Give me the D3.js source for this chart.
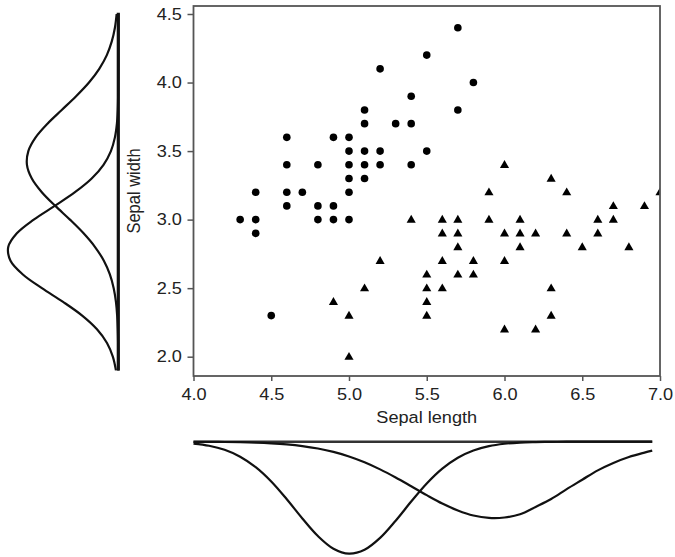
<!DOCTYPE html>
<html>
<head>
<meta charset="utf-8">
<script src="https://cdn.jsdelivr.net/npm/d3@7"></script>
<style>
  html, body { margin: 0; padding: 0; background: #fff; }
  svg { display: block; font-family: "Liberation Sans", Arial, Helvetica, sans-serif; }
</style>
</head>
<body>
<svg id="chart" width="675" height="557"></svg>
<script>
// Iris sepal measurements: setosa (circles) and versicolor (triangles)
const setosaLength = [5.5, 5.2, 5.4, 5.1, 5.1, 5.3, 5.4, 4.6, 4.9, 5.0, 5.0, 5.1, 5.2, 5.5, 4.6, 4.8, 5.0, 5.1, 5.2, 5.4, 5.0, 5.1, 4.4, 4.6, 4.7, 5.0, 5.7, 5.8, 5.7, 4.6, 4.8, 4.9, 4.3, 4.4, 4.8, 4.9, 5.0, 4.4, 4.5];
const setosaWidth  = [4.2, 4.1, 3.9, 3.8, 3.7, 3.7, 3.7, 3.6, 3.6, 3.6, 3.5, 3.5, 3.5, 3.5, 3.4, 3.4, 3.4, 3.4, 3.4, 3.4, 3.3, 3.3, 3.2, 3.2, 3.2, 3.2, 4.4, 4.0, 3.8, 3.1, 3.1, 3.1, 3.0, 3.0, 3.0, 3.0, 3.0, 2.9, 2.3];

const versicolorLength = [6.0, 6.3, 5.9, 6.4, 7.0, 6.7, 6.9, 5.4, 5.6, 5.7, 5.9, 6.1, 6.6, 6.7, 5.6, 5.7, 6.0, 6.1, 6.2, 6.4, 6.6, 5.7, 6.1, 6.5, 6.8, 5.2, 5.6, 5.8, 6.0, 5.5, 5.7, 5.8, 5.1, 5.5, 5.6, 6.3, 4.9, 5.5, 5.0, 5.5, 6.3, 6.0, 6.2, 5.0];
const versicolorWidth  = [3.4, 3.3, 3.2, 3.2, 3.2, 3.1, 3.1, 3.0, 3.0, 3.0, 3.0, 3.0, 3.0, 3.0, 2.9, 2.9, 2.9, 2.9, 2.9, 2.9, 2.9, 2.8, 2.8, 2.8, 2.8, 2.7, 2.7, 2.7, 2.7, 2.6, 2.6, 2.6, 2.5, 2.5, 2.5, 2.5, 2.4, 2.4, 2.3, 2.3, 2.3, 2.2, 2.2, 2.0];

// Axis ticks
const xTicks = [4.0, 4.5, 5.0, 5.5, 6.0, 6.5, 7.0];
const yTicks = [2.0, 2.5, 3.0, 3.5, 4.0, 4.5];

// Marginal density of sepal width (left panel)
const widthGrid = [1.9, 2.0, 2.1, 2.2, 2.3, 2.4, 2.5, 2.6, 2.7, 2.8, 2.9, 3.0, 3.1, 3.2, 3.3, 3.4, 3.5, 3.6, 3.7, 3.8, 3.9, 4.0, 4.1, 4.2, 4.3, 4.4, 4.5];
const setosaWidthDensity = [0.000, 0.001, 0.002, 0.006, 0.013, 0.027, 0.053, 0.097, 0.166, 0.267, 0.399, 0.556, 0.724, 0.879, 0.994, 1.050, 1.034, 0.950, 0.814, 0.650, 0.485, 0.337, 0.219, 0.132, 0.075, 0.039, 0.019];
const versicolorWidthDensity = [0.027, 0.063, 0.130, 0.245, 0.415, 0.635, 0.878, 1.097, 1.239, 1.265, 1.166, 0.972, 0.731, 0.498, 0.306, 0.170, 0.085, 0.039, 0.016, 0.006, 0.002, 0.001, 0.000, 0.000, 0.000, 0.000, 0.000];

// Marginal density of sepal length (bottom panel)
const lengthGrid = [4.0, 4.1, 4.2, 4.3, 4.4, 4.5, 4.6, 4.7, 4.8, 4.9, 5.0, 5.1, 5.2, 5.3, 5.4, 5.5, 5.6, 5.7, 5.8, 5.9, 6.0, 6.1, 6.2, 6.3, 6.4, 6.5, 6.6, 6.7, 6.8, 6.9, 6.95];
const setosaLengthDensity = [0.019, 0.041, 0.082, 0.152, 0.258, 0.403, 0.583, 0.777, 0.955, 1.083, 1.133, 1.094, 0.974, 0.800, 0.606, 0.423, 0.273, 0.162, 0.089, 0.045, 0.021, 0.009, 0.004, 0.001, 0.000, 0.000, 0.000, 0.000, 0.000, 0.000, 0.000];
const versicolorLengthDensity = [0.001, 0.001, 0.003, 0.005, 0.009, 0.016, 0.027, 0.044, 0.069, 0.103, 0.149, 0.208, 0.280, 0.362, 0.451, 0.541, 0.626, 0.696, 0.747, 0.771, 0.767, 0.735, 0.660, 0.580, 0.480, 0.385, 0.290, 0.215, 0.155, 0.110, 0.090];

const svg = d3.select("#chart");

// Text is set slightly wide
const textStretch = 1.1;

// Scatter panel geometry
const plot = { left: 193.5, right: 660, top: 6, bottom: 376 };

const x = d3.scaleLinear().domain([4.0, 7.0]).range([plot.left, plot.right]);
const y = d3.scaleLinear().domain([2.0, 4.5]).range([356.7, 14]);

// Clip marks to the plotting frame
svg.append("defs").append("clipPath").attr("id", "plotClip")
  .append("rect")
  .attr("x", plot.left).attr("y", plot.top)
  .attr("width", plot.right - plot.left).attr("height", plot.bottom - plot.top);

const marks = svg.append("g").attr("clip-path", "url(#plotClip)");

const setosa = setosaLength.map((d, i) => ({ len: d, wid: setosaWidth[i] }));
const versicolor = versicolorLength.map((d, i) => ({ len: d, wid: versicolorWidth[i] }));

marks.selectAll("circle.setosa").data(setosa).join("circle")
  .attr("class", "setosa")
  .attr("cx", d => x(d.len))
  .attr("cy", d => y(d.wid))
  .attr("r", 3.8)
  .attr("fill", "#000");

const tri = d3.symbol().type(d3.symbolTriangle).size(36);
marks.selectAll("path.versicolor").data(versicolor).join("path")
  .attr("class", "versicolor")
  .attr("d", tri)
  .attr("transform", d => `translate(${x(d.len)},${y(d.wid) + 0.5})`)
  .attr("fill", "#000");

// Frame
svg.append("rect")
  .attr("x", plot.left).attr("y", plot.top)
  .attr("width", plot.right - plot.left).attr("height", plot.bottom - plot.top)
  .attr("fill", "none")
  .attr("stroke", "#555")
  .attr("stroke-width", 1.8);

// Axes
const fmt = d3.format(".1f");
const yAxis = svg.append("g")
  .attr("transform", `translate(${plot.left},0)`)
  .call(d3.axisLeft(y).tickValues(yTicks).tickFormat(fmt).tickSize(6).tickPadding(4.5));
const xAxis = svg.append("g")
  .attr("transform", `translate(0,${plot.bottom})`)
  .call(d3.axisBottom(x).tickValues(xTicks).tickFormat(fmt).tickSize(5).tickPadding(7));

[yAxis, xAxis].forEach(a => {
  a.select(".domain").remove();
  a.selectAll(".tick line").attr("stroke", "#555").attr("stroke-width", 1.5);
  a.selectAll(".tick text")
    .attr("fill", "#222")
    .attr("transform", `scale(${textStretch},1)`)
    .style("font-size", "16.5px")
    .style("font-family", "'Liberation Sans', Arial, Helvetica, sans-serif");
});

// Axis titles
svg.append("text")
  .attr("transform", `translate(${(plot.left + plot.right) / 2},423) scale(${textStretch},1)`)
  .attr("text-anchor", "middle")
  .attr("fill", "#222")
  .style("font-size", "16.5px")
  .text("Sepal length");

svg.append("text")
  .attr("transform", `translate(140,${(plot.top + plot.bottom) / 2}) scale(${textStretch},1) rotate(-90)`)
  .attr("text-anchor", "middle")
  .attr("fill", "#222")
  .style("font-size", "16.5px")
  .text("Sepal width");

// Left marginal: densities of sepal width, extending leftwards from a baseline
const leftBase = 118.3;
const densLeft = d3.scaleLinear().domain([0, 1.3]).range([leftBase, leftBase - 1.3 * 87]);

svg.append("line")
  .attr("x1", leftBase).attr("x2", leftBase)
  .attr("y1", y(4.51)).attr("y2", y(widthGrid[0]))
  .attr("stroke", "#111")
  .attr("stroke-width", 3.2);

const leftLine = dens => d3.line()
  .x((d, i) => densLeft(dens[i]))
  .y(d => y(d))
  .curve(d3.curveCatmullRom);

[setosaWidthDensity, versicolorWidthDensity].forEach(dens => {
  svg.append("path")
    .attr("d", leftLine(dens)(widthGrid))
    .attr("fill", "none")
    .attr("stroke", "#111")
    .attr("stroke-width", 2.2);
});

// Bottom marginal: densities of sepal length, hanging below a baseline
const bottomBase = 441.7;
const densBottom = d3.scaleLinear().domain([0, 1.2]).range([bottomBase, bottomBase + 1.2 * 98.8]);

svg.append("line")
  .attr("x1", x(lengthGrid[0])).attr("x2", x(lengthGrid[lengthGrid.length - 1]))
  .attr("y1", bottomBase).attr("y2", bottomBase)
  .attr("stroke", "#333")
  .attr("stroke-width", 2.6);

const bottomLine = dens => d3.line()
  .x(d => x(d))
  .y((d, i) => densBottom(dens[i]))
  .curve(d3.curveCatmullRom);

[setosaLengthDensity, versicolorLengthDensity].forEach(dens => {
  svg.append("path")
    .attr("d", bottomLine(dens)(lengthGrid))
    .attr("fill", "none")
    .attr("stroke", "#111")
    .attr("stroke-width", 2.2);
});
</script>
</body>
</html>
